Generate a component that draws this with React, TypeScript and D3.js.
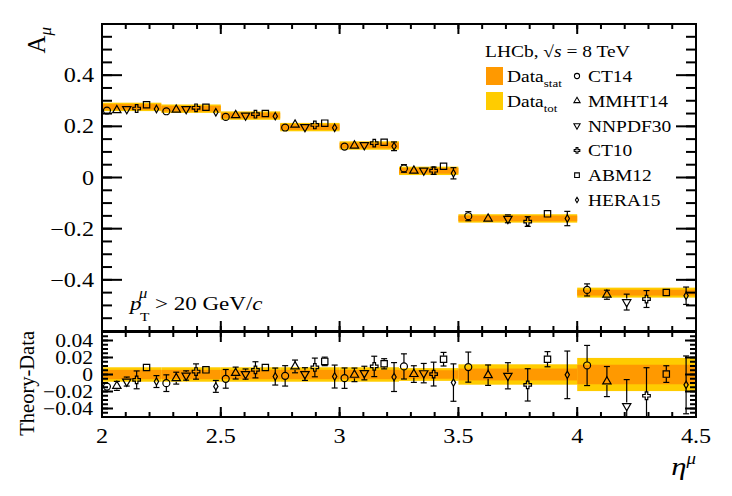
import { useMemo } from "react";
import * as d3 from "d3";

const W = 732;
const H = 496;
const SX = 1.18; // lettering in the figure is stretched sideways
const FONT = '"Liberation Serif", "Times New Roman", serif';
const STAT = "#ff9900";
const TOT = "#ffcc00";

// eta bins and measured asymmetry
const binEdges = [2.0, 2.25, 2.5, 2.75, 3.0, 3.25, 3.5, 4.0, 4.5];
const dataAsym = [0.276, 0.269, 0.242, 0.197, 0.125, 0.026, -0.16, -0.45];
const dataStat = [0.0055, 0.0055, 0.0055, 0.0055, 0.0055, 0.005, 0.007, 0.0115];
const dataTot = [0.0085, 0.0085, 0.0085, 0.0085, 0.0085, 0.0075, 0.012, 0.0195];

// theory - data per bin, with theory uncertainty
const diffCT14 = [-0.0142, -0.0102, -0.0051, -0.0016, -0.0043, 0.0095, 0.0087, 0.0106];
const errCT14 = [0.004, 0.0098, 0.011, 0.012, 0.012, 0.0148, 0.0177, 0.0236];
const diffMMHT14 = [-0.0134, -0.0043, 0.0017, 0.0095, -0.0004, 0.0005, -0.0008, -0.0083];
const errMMHT14 = [0.0053, 0.007, 0.007, 0.0075, 0.008, 0.0098, 0.012, 0.0177];
const diffNNPDF30 = [-0.0083, -0.0012, 0.0005, 0.0005, 0.0017, 0.0016, -0.0015, -0.037];
const errNNPDF30 = [0.0053, 0.0055, 0.006, 0.0075, 0.008, 0.0114, 0.0154, 0.031];
const diffCT10 = [-0.0063, 0.0035, 0.0055, 0.0083, 0.0095, 0.0005, -0.0122, -0.025];
const errCT10 = [0.0105, 0.009, 0.0095, 0.011, 0.012, 0.014, 0.019, 0.033];
const diffABM12 = [0.0083, 0.0055, 0.0083, 0.0154, 0.0126, 0.018, 0.018, 0.0005];
const errABM12 = [0.003, 0.003, 0.003, 0.005, 0.006, 0.008, 0.0089, 0.0098];
const diffHERA15 = [-0.0083, -0.014, -0.0024, -0.0024, -0.003, -0.0095, -0.0004, -0.0122];
const errHERA15 = [0.007, 0.007, 0.01, 0.0135, 0.017, 0.022, 0.028, 0.034];

const models = [
  { name: "CT14", sym: d3.symbolCircle, size: 38, rot: 0, diff: diffCT14, err: errCT14 },
  { name: "MMHT14", sym: d3.symbolTriangle, size: 30, rot: 0, diff: diffMMHT14, err: errMMHT14 },
  { name: "NNPDF30", sym: d3.symbolTriangle, size: 30, rot: 180, diff: diffNNPDF30, err: errNNPDF30 },
  { name: "CT10", sym: d3.symbolCross, size: 32, rot: 0, diff: diffCT10, err: errCT10 },
  { name: "ABM12", sym: d3.symbolSquare, size: 40, rot: 0, diff: diffABM12, err: errABM12 },
  { name: "HERA15", sym: d3.symbolDiamond, size: 16, rot: 0, diff: diffHERA15, err: errHERA15 },
];

// top-panel bands are never drawn thinner than this
const TOP_MIN_TOT = 4.2;
const TOP_MIN_STAT = 2.8;
const GAP = 3.5; // error bars stop at the marker edge

function T({ x, y, size, anchor = "start", italic = false, children }: any) {
  return (
    <text
      transform={`translate(${x},${y}) scale(${SX},1)`}
      fontSize={size}
      textAnchor={anchor}
      fontStyle={italic ? "italic" : "normal"}
      fontFamily={FONT}
      fill="#000"
    >
      {children}
    </text>
  );
}

function ErrBar({ cx, yc, yHi, yLo }: { cx: number; yc: number; yHi: number; yLo: number }) {
  const parts = [];
  if (yHi < yc - GAP) {
    parts.push(<line key="u" x1={cx} x2={cx} y1={yHi} y2={yc - GAP} />);
    parts.push(<line key="uc" x1={cx - 3} x2={cx + 3} y1={yHi} y2={yHi} />);
  }
  if (yLo > yc + GAP) {
    parts.push(<line key="d" x1={cx} x2={cx} y1={yc + GAP} y2={yLo} />);
    parts.push(<line key="dc" x1={cx - 3} x2={cx + 3} y1={yLo} y2={yLo} />);
  }
  return <g>{parts}</g>;
}

export default function App() {
  const x = d3.scaleLinear().domain([2, 4.5]).range([102, 696]);
  const yTop = d3.scaleLinear().domain([-0.6, 0.6]).range([331, 24]);
  const yBot = d3.scaleLinear().domain([-0.05, 0.05]).range([417, 332]);

  const symPaths = useMemo(
    () => models.map((m) => d3.symbol(m.sym, m.size)() ?? ""),
    []
  );
  const legendPaths = useMemo(
    () => models.map((m) => d3.symbol(m.sym, m.size * 0.55)() ?? ""),
    []
  );

  const bins = dataAsym.map((v, i) => ({
    lo: binEdges[i],
    hi: binEdges[i + 1],
    v,
    stat: dataStat[i],
    tot: dataTot[i],
  }));

  const pxPerUnitTop = yTop(0) - yTop(1);

  const points = models.flatMap((m, mi) =>
    bins.map((b, i) => ({
      mi,
      cx: x(b.lo + ((mi + 0.5) * (b.hi - b.lo)) / models.length),
      top: b.v + m.diff[i],
      bot: m.diff[i],
      err: m.err[i],
    }))
  );

  const xMajor = x.ticks(5);
  const xMinor = x.ticks(25);
  const yTopMajor = yTop.ticks(6);
  const yTopMinor = yTop.ticks(24);
  const yBotMajor = yBot.ticks(5);
  const yBotMinor = yBot.ticks(20);

  const fmtTop = (v: number) => (Math.abs(v) < 1e-9 ? "0" : d3.format(".1f")(v));
  const fmtBot = (v: number) => (Math.abs(v) < 1e-9 ? "0" : d3.format(".2f")(v));

  const [x0, x1] = x.range();
  const [tB, tT] = yTop.range();
  const [bB, bT] = yBot.range();

  const xTicks = (yEdge: number, dir: number, maj: number, min: number) => (
    <g>
      {xMinor.map((t) => (
        <line key={"n" + t} x1={x(t)} x2={x(t)} y1={yEdge} y2={yEdge + dir * min} />
      ))}
      {xMajor.map((t) => (
        <line key={"j" + t} x1={x(t)} x2={x(t)} y1={yEdge} y2={yEdge + dir * maj} />
      ))}
    </g>
  );
  const yTicks = (
    scale: d3.ScaleLinear<number, number>,
    major: number[],
    minor: number[],
    maj: number,
    min: number
  ) => (
    <g>
      {minor.map((t) => (
        <g key={"n" + t}>
          <line x1={x0} x2={x0 + min} y1={scale(t)} y2={scale(t)} />
          <line x1={x1} x2={x1 - min} y1={scale(t)} y2={scale(t)} />
        </g>
      ))}
      {major.map((t) => (
        <g key={"j" + t}>
          <line x1={x0} x2={x0 + maj} y1={scale(t)} y2={scale(t)} />
          <line x1={x1} x2={x1 - maj} y1={scale(t)} y2={scale(t)} />
        </g>
      ))}
    </g>
  );

  return (
    <svg
      width={W}
      height={H}
      viewBox={`0 0 ${W} ${H}`}
      style={{ position: "absolute", left: 0, top: 0, background: "#fff" }}
    >
      <defs>
        <clipPath id="clipTop">
          <rect x={x0} y={tT} width={x1 - x0} height={tB - tT} />
        </clipPath>
        <clipPath id="clipBot">
          <rect x={x0} y={bT} width={x1 - x0} height={bB - bT} />
        </clipPath>
      </defs>

      {/* top panel */}
      <g clipPath="url(#clipTop)">
        {bins.map((b, i) => {
          const hTot = Math.max(b.tot * pxPerUnitTop, TOP_MIN_TOT);
          const hStat = Math.max(b.stat * pxPerUnitTop, TOP_MIN_STAT);
          const yc = yTop(b.v);
          return (
            <g key={i}>
              <rect x={x(b.lo)} width={x(b.hi) - x(b.lo)} y={yc - hTot} height={2 * hTot} fill={TOT} />
              <rect x={x(b.lo)} width={x(b.hi) - x(b.lo)} y={yc - hStat} height={2 * hStat} fill={STAT} />
            </g>
          );
        })}
        <g stroke="#000" strokeWidth={1.2}>
          {points.map((p, k) => (
            <ErrBar key={k} cx={p.cx} yc={yTop(p.top)} yHi={yTop(p.top + p.err)} yLo={yTop(p.top - p.err)} />
          ))}
        </g>
        {points.map((p, k) => (
          <path
            key={k}
            d={symPaths[p.mi]}
            transform={`translate(${p.cx},${yTop(p.top)}) rotate(${models[p.mi].rot})`}
            fill="none"
            stroke="#000"
            strokeWidth={1.2}
          />
        ))}
      </g>

      {/* ratio panel */}
      <g clipPath="url(#clipBot)">
        {bins.map((b, i) => (
          <g key={i}>
            <rect x={x(b.lo)} width={x(b.hi) - x(b.lo)} y={yBot(b.tot)} height={yBot(-b.tot) - yBot(b.tot)} fill={TOT} />
            <rect x={x(b.lo)} width={x(b.hi) - x(b.lo)} y={yBot(b.stat)} height={yBot(-b.stat) - yBot(b.stat)} fill={STAT} />
          </g>
        ))}
        <g stroke="#000" strokeWidth={1.2}>
          {points.map((p, k) => (
            <ErrBar key={k} cx={p.cx} yc={yBot(p.bot)} yHi={yBot(p.bot + p.err)} yLo={yBot(p.bot - p.err)} />
          ))}
        </g>
        {points.map((p, k) => (
          <path
            key={k}
            d={symPaths[p.mi]}
            transform={`translate(${p.cx},${yBot(p.bot)}) rotate(${models[p.mi].rot})`}
            fill="none"
            stroke="#000"
            strokeWidth={1.2}
          />
        ))}
      </g>

      {/* frames and ticks */}
      <g stroke="#000" strokeWidth={2} fill="none">
        <rect x={x0} y={tT} width={x1 - x0} height={tB - tT} />
        <rect x={x0} y={bT} width={x1 - x0} height={bB - bT} />
        {xTicks(tT, 1, 10, 5)}
        {xTicks(tB, -1, 10, 5)}
        {xTicks(bT, 1, 10, 5)}
        {xTicks(bB, -1, 10, 5)}
        {yTicks(yTop, yTopMajor, yTopMinor, 20, 10)}
        {yTicks(yBot, yBotMajor, yBotMinor, 11, 6)}
      </g>

      {/* tick labels */}
      {yTopMajor
        .filter((t) => Math.abs(t) < 0.55)
        .map((t) => (
          <T key={t} x={94} y={yTop(t) + 7} size={20.5} anchor="end">
            {fmtTop(t)}
          </T>
        ))}
      {yBotMajor.map((t) => (
        <T key={t} x={93} y={yBot(t) + 6.2} size={18.3} anchor="end">
          {fmtBot(t)}
        </T>
      ))}
      {xMajor.map((t) => (
        <T key={t} x={x(t)} y={443} size={20.5} anchor="middle">
          {String(t)}
        </T>
      ))}

      {/* axis titles */}
      <T x={696} y={475} size={26} anchor="end" italic>
        η<tspan dy={-11} fontSize={16}>μ</tspan>
      </T>
      <text transform="translate(45,27) rotate(-90)" textAnchor="end" fontFamily={FONT} fontSize={25}>
        A<tspan dy={6} fontSize={17} fontStyle="italic">μ</tspan>
      </text>
      <text transform="translate(34,331) rotate(-90)" textAnchor="end" fontFamily={FONT} fontSize={20.5}>
        Theory-Data
      </text>

      {/* kinematic cut */}
      <T x={130} y={310} size={19.5} italic>p</T>
      <T x={139} y={298} size={14} italic>μ</T>
      <T x={140} y={321} size={13}>T</T>
      <T x={155} y={310} size={19.5}>
        {"> 20 GeV/"}
        <tspan fontStyle="italic">c</tspan>
      </T>

      {/* legend */}
      <T x={485} y={57} size={16.5}>
        {"LHCb, √"}
        <tspan fontStyle="italic">s</tspan>
        {" = 8 TeV"}
      </T>
      <rect x={486} y={67} width={17} height={18} fill={STAT} />
      <rect x={486} y={92} width={17} height={18} fill={TOT} />
      <T x={507} y={82} size={16.5}>
        Data<tspan dy={5} fontSize={11}>stat</tspan>
      </T>
      <T x={507} y={107} size={16.5}>
        Data<tspan dy={5} fontSize={11}>tot</tspan>
      </T>
      {models.map((m, i) => {
        const ly = 76 + i * 24.8;
        return (
          <g key={m.name}>
            <path
              d={legendPaths[i]}
              transform={`translate(577,${ly}) rotate(${m.rot})`}
              fill="none"
              stroke="#000"
              strokeWidth={1.1}
            />
            <T x={588} y={ly + 6} size={16.5}>
              {m.name}
            </T>
          </g>
        );
      })}
    </svg>
  );
}
